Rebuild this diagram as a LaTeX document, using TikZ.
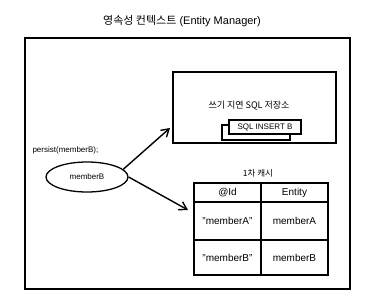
\documentclass[tikz,border=0pt]{standalone}
\usepackage{fontspec}
\setmainfont{Liberation Sans}
\newfontfamily\kr{Noto Sans CJK KR}
\usepackage{tikz}
\usetikzlibrary{arrows.meta,shapes.geometric}

\begin{document}
\begin{tikzpicture}[x=1pt, y=-1pt,
    frame/.style={draw, line width=1.3pt, inner sep=0pt},
    box/.style={draw, line width=1.1pt, fill=white, inner sep=0pt},
    cell/.style={draw, line width=1.2pt, inner sep=0pt, minimum width=67pt, font=\fontsize{10}{12}\selectfont},
    lbl/.style={font=\fontsize{8}{10}\selectfont},
    arr/.style={-{Straight Barb[length=2.6mm, width=3.2mm]}, line width=1.4pt}
]
\useasboundingbox (0,0) rectangle (370,306);

% Entity Manager
\node[font=\fontsize{11}{13}\selectfont] (title) at (182,21) {{\kr 영속성 컨텍스트} (Entity Manager)};
\node[frame, minimum width=325pt, minimum height=251pt] (em) at (187.5,163.5) {};

% write-behind store
\node[box, minimum width=163pt, minimum height=71pt] (store) at (254.5,107.5) {};
\node[font=\kr\fontsize{9}{11}\selectfont] (storelbl) at (249,106) {쓰기 지연 SQL 저장소};
\node[box, minimum width=68pt, minimum height=15pt] (sqlback) at (256,132.5) {};
\node[box, lbl, minimum width=72pt, minimum height=14pt] (sql) at (265,127) {SQL INSERT B};

% persist
\node[lbl, anchor=west] (persist) at (29,150) {persist(memberB);};
\node[draw, ellipse, line width=1.3pt, lbl, minimum width=82pt, minimum height=30pt] (mb) at (87,177) {memberB};
\coordinate (tostore) at (170,128);
\coordinate (tocache) at (188,210);
\draw[arr] (mb.12) -- (tostore);
\draw[arr] (mb.east) -- (tocache);

% first-level cache
\node[font=\kr\fontsize{8.5}{10}\selectfont] (cachelbl) at (258,173) {1차 캐시};
\node[cell, minimum height=19pt] (id) at (227.5,192.5) {@Id};
\node[cell, minimum height=19pt] (ent) at (294.5,192.5) {Entity};
\node[cell, minimum height=38pt] (ka) at (227.5,221) {"memberA"};
\node[cell, minimum height=38pt] (va) at (294.5,221) {memberA};
\node[cell, minimum height=35pt] (kb) at (227.5,257.5) {"memberB"};
\node[cell, minimum height=35pt] (vb) at (294.5,257.5) {memberB};
\end{tikzpicture}
\end{document}
